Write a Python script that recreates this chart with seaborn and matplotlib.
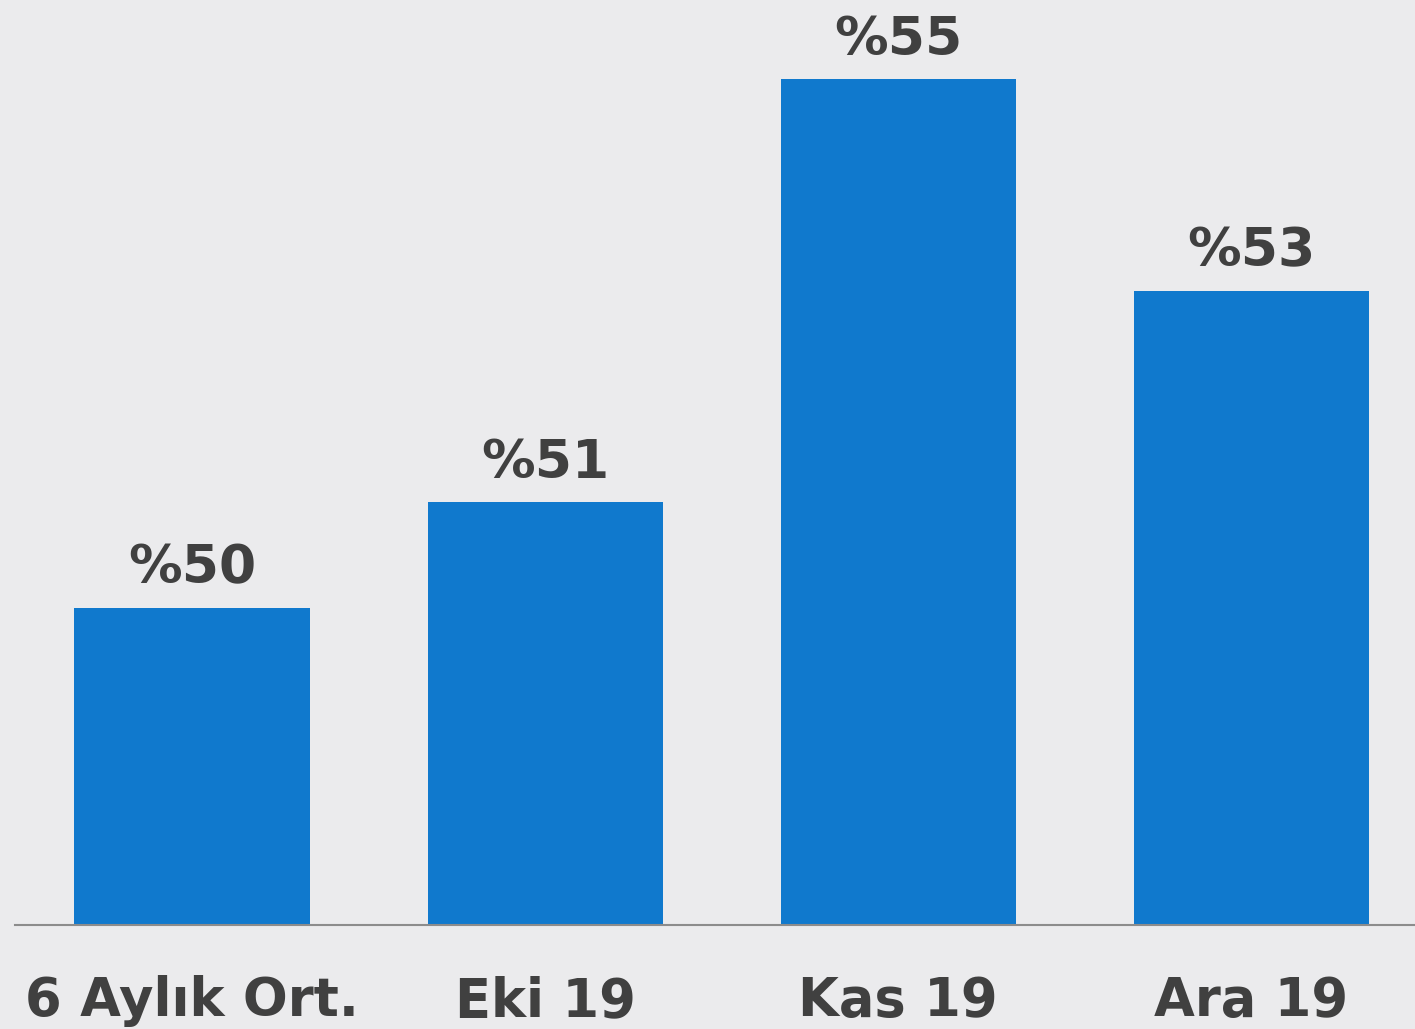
import matplotlib
matplotlib.use("Agg")
import matplotlib.pyplot as plt
import seaborn as sns
import pandas as pd

categories = ["6 Aylık Ort.", "Eki 19", "Kas 19", "Ara 19"]
values = [50, 51, 55, 53]
labels = ["%50", "%51", "%55", "%53"]

df = pd.DataFrame({"ay": categories, "oran": values})

sns.set_style("white")
plt.rcParams["font.family"] = ["DejaVu Sans"]

fig = plt.figure(figsize=(14.15, 10.29), dpi=100)
fig.patch.set_facecolor("#ebebed")
ax = fig.add_axes([15 / 1415, 104 / 1029, 1400 / 1415, 925 / 1029])
ax.set_facecolor("#ebebed")

sns.barplot(data=df, x="ay", y="oran", color="#1079cd", saturation=1,
            width=0.666, linewidth=0, ax=ax)

for i, (v, t) in enumerate(zip(values, labels)):
    ax.annotate(t, (i, v), xytext=(0, 9.5), textcoords="offset points",
                ha="center", va="bottom", fontsize=38.5, fontweight="bold",
                color="#404040")

ax.set_xlim(-0.501, 3.463)
ax.set_ylim(47, 55.75)
ax.set_xlabel("")
ax.set_ylabel("")
ax.set_yticks([])
ax.tick_params(axis="x", length=0, pad=36)
for lab in ax.get_xticklabels():
    lab.set_fontsize(38)
    lab.set_fontweight("bold")
    lab.set_color("#404040")

for s in ["top", "right", "left"]:
    ax.spines[s].set_visible(False)
ax.spines["bottom"].set_color("#8c8c8c")
ax.spines["bottom"].set_linewidth(1.5)

fig.savefig("out.png", dpi=100, facecolor=fig.get_facecolor())
